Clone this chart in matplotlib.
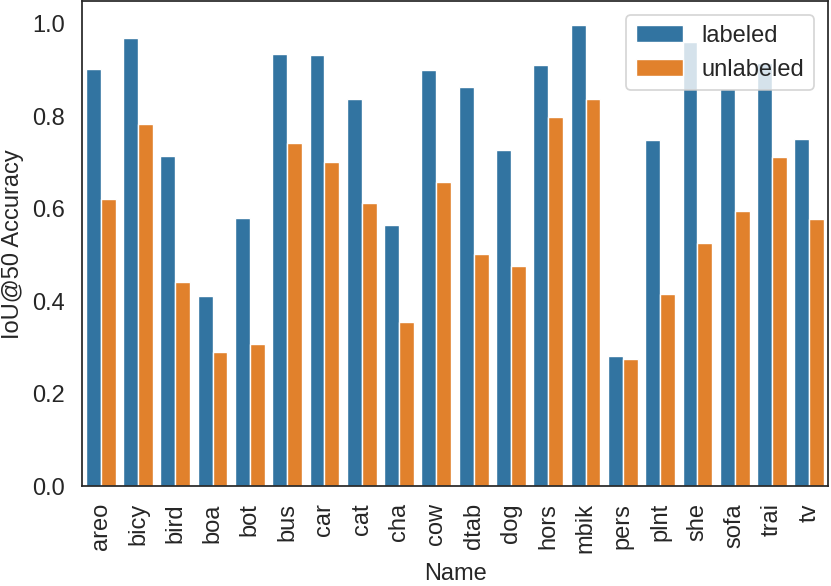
import matplotlib
matplotlib.use("Agg")
import matplotlib.pyplot as plt
import numpy as np

names = ["areo", "bicy", "bird", "boa", "bot", "bus", "car", "cat", "cha", "cow",
         "dtab", "dog", "hors", "mbik", "pers", "plnt", "she", "sofa", "trai", "tv"]
labeled = [0.901, 0.969, 0.713, 0.412, 0.581, 0.935, 0.933, 0.837, 0.565, 0.900,
           0.864, 0.726, 0.911, 0.998, 0.283, 0.748, 0.961, 0.858, 0.914, 0.751]
unlabeled = [0.621, 0.784, 0.442, 0.290, 0.308, 0.743, 0.702, 0.612, 0.355, 0.658,
             0.503, 0.476, 0.799, 0.837, 0.275, 0.415, 0.527, 0.595, 0.712, 0.577]

plt.rcParams["font.family"] = ["Liberation Sans", "DejaVu Sans"]
text_col = "#262626"

fig, ax = plt.subplots(figsize=(8.31, 5.86), dpi=100)
fig.subplots_adjust(left=0.0987, right=0.9964, top=0.998, bottom=0.1698)

x = np.arange(len(names))
w = 0.4
ax.bar(x - w / 2, labeled, w, color="#3274a1", edgecolor="white", linewidth=1.0, label="labeled")
ax.bar(x + w / 2, unlabeled, w, color="#e1812c", edgecolor="white", linewidth=1.0, label="unlabeled")

ax.set_xlim(-0.5, len(names) - 0.5)
ax.set_ylim(0, 1.0486)
ax.set_yticks([0.0, 0.2, 0.4, 0.6, 0.8, 1.0])
ax.set_xticks(x)
ax.set_xticklabels(names, rotation=90)
ax.tick_params(length=0, labelsize=17, colors=text_col, pad=12)

ax.set_xlabel("Name", fontsize=17, color=text_col, labelpad=7)
ax.set_ylabel("IoU@50 Accuracy", fontsize=17, color=text_col, labelpad=6)

for s in ax.spines.values():
    s.set_color(text_col)
    s.set_linewidth(1.25)

leg = ax.legend(loc="upper right", fontsize=17, frameon=True, edgecolor="0.8",
                borderaxespad=0.6)
leg.get_frame().set_linewidth(1.25)
for t in leg.get_texts():
    t.set_color(text_col)

fig.savefig("out.png", dpi=100)
